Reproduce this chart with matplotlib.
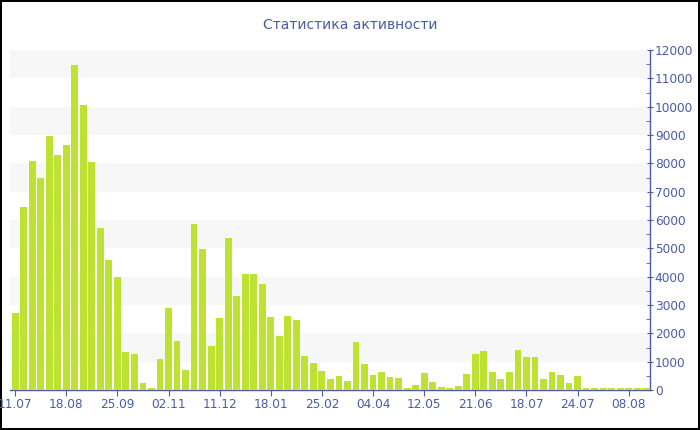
import matplotlib
matplotlib.use("Agg")
import matplotlib.pyplot as plt
import numpy as np

# Weekly activity counts
activity = [
    2730, 6470, 8090, 7470, 8950, 8310, 8650, 11470, 10060, 8050,
    5720, 4600, 3990, 1330, 1260, 250, 80, 1080, 2880, 1730,
    710, 5850, 4990, 1570, 2530, 5370, 3320, 4080, 4080, 3730,
    2570, 1920, 2610, 2470, 1210, 940, 660, 400, 480, 310,
    1690, 910, 530, 620, 460, 420, 60, 180, 600, 270,
    120, 70, 140, 580, 1260, 1380, 620, 400, 640, 1400,
    1170, 1170, 380, 640, 520, 250, 510, 60, 60, 60,
    60, 60, 60, 60, 60,
]
tick_labels = ["11.07", "18.08", "25.09", "02.11", "11.12", "18.01", "25.02",
               "04.04", "12.05", "21.06", "18.07", "24.07", "08.08"]
tick_step = 6

bar_color = "#bde232"
axis_color = "#4a5ca6"

fig = plt.figure(figsize=(7, 4.3), dpi=100, edgecolor="black", linewidth=1.5)
ax = fig.add_axes([10 / 700, 1 - 390 / 430, 640 / 700, 340 / 430])

x = np.arange(len(activity))

# alternating background bands
for lo in range(1000, 12000, 2000):
    ax.axhspan(lo, lo + 1000, color="#f7f7f7", zorder=0, lw=0)

ax.bar(x, activity, width=0.8, color=bar_color, linewidth=0, zorder=3)

ax.set_xlim(-0.6, len(activity) - 0.5)
ax.set_ylim(0, 12000)

ax.set_xticks(x[::tick_step][:len(tick_labels)])
ax.set_xticklabels(tick_labels)
ax.set_yticks(np.arange(0, 12001, 1000))
ax.set_yticks(np.arange(500, 12000, 1000), minor=True)

ax.yaxis.tick_right()
for side in ["left", "top"]:
    ax.spines[side].set_visible(False)
for side in ["right", "bottom"]:
    ax.spines[side].set_color(axis_color)
    ax.spines[side].set_linewidth(1.0)
    ax.spines[side].set_zorder(2)

ax.tick_params(axis="x", colors=axis_color, labelsize=8.7, length=4, pad=2)
ax.tick_params(axis="y", which="major", colors=axis_color, labelsize=8.7,
               length=5, direction="inout", pad=1)
ax.tick_params(axis="y", which="minor", colors=axis_color, length=3,
               direction="in")

fig.text(0.5, 1 - 25 / 430, "Статистика активности", ha="center",
         va="center", color=axis_color, fontsize=10)

fig.savefig("out.png", dpi=100)
